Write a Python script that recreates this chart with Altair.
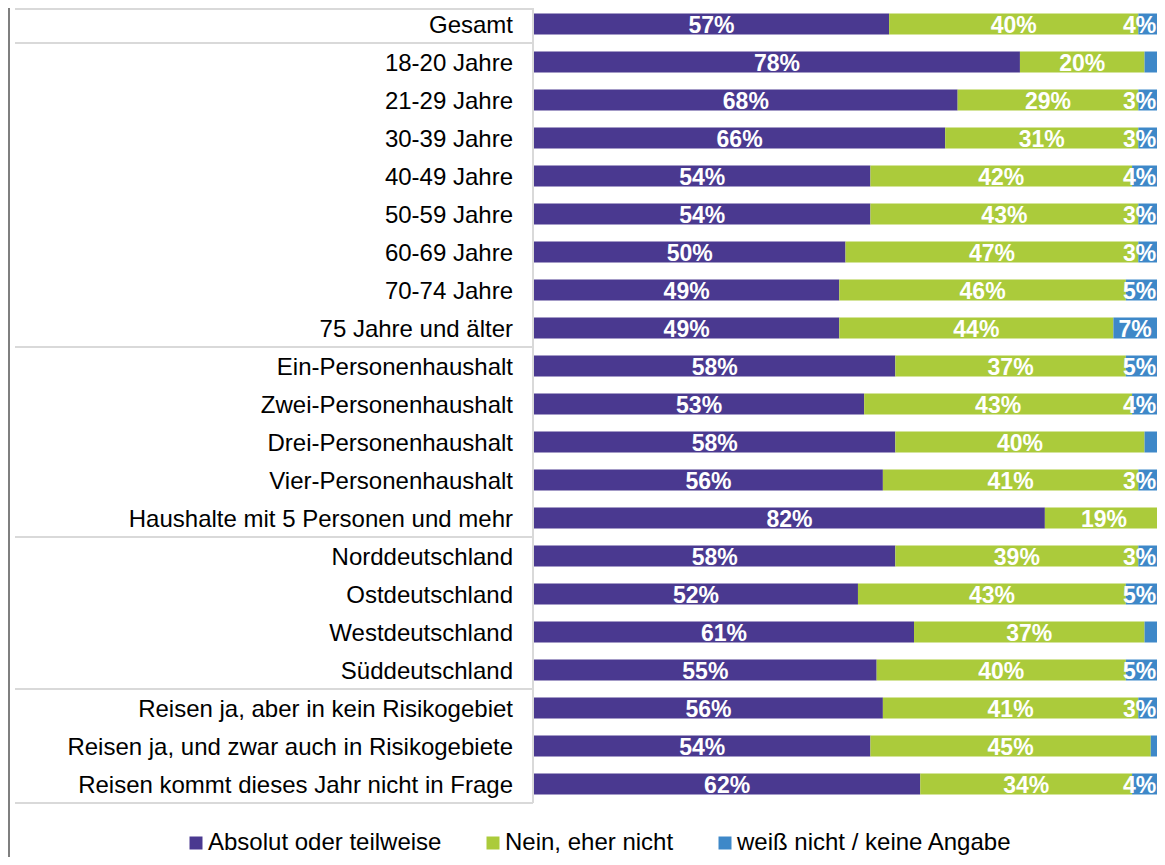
import altair as alt
import pandas as pd

categories = [
    "Gesamt",
    "18-20 Jahre", "21-29 Jahre", "30-39 Jahre", "40-49 Jahre", "50-59 Jahre",
    "60-69 Jahre", "70-74 Jahre", "75 Jahre und älter",
    "Ein-Personenhaushalt", "Zwei-Personenhaushalt", "Drei-Personenhaushalt",
    "Vier-Personenhaushalt", "Haushalte mit 5 Personen und mehr",
    "Norddeutschland", "Ostdeutschland", "Westdeutschland", "Süddeutschland",
    "Reisen ja, aber in kein Risikogebiet",
    "Reisen ja, und zwar auch in Risikogebiete",
    "Reisen kommt dieses Jahr nicht in Frage",
]
absolut = [57, 78, 68, 66, 54, 54, 50, 49, 49, 58, 53, 58, 56, 82, 58, 52, 61, 55, 56, 54, 62]
nein = [40, 20, 29, 31, 42, 43, 47, 46, 44, 37, 43, 40, 41, 19, 39, 43, 37, 40, 41, 45, 34]
weiss = [4, 2, 3, 3, 4, 3, 3, 5, 7, 5, 4, 2, 3, 0, 3, 5, 2, 5, 3, 1, 4]

answers = ["Absolut oder teilweise", "Nein, eher nicht", "weiß nicht / keine Angabe"]
colors = ["#4a3990", "#abcb3b", "#3e88c8"]

group_starts = ["Gesamt", "18-20 Jahre", "Ein-Personenhaushalt", "Norddeutschland",
                "Reisen ja, aber in kein Risikogebiet"]

FONT = "Liberation Sans"

rows = []
for i, c in enumerate(categories):
    for j, (a, v) in enumerate(zip(answers, [absolut[i], nein[i], weiss[i]])):
        rows.append({"cat": c, "answer": a, "value": v, "order": j})
bars_df = pd.DataFrame(rows)
cats_df = pd.DataFrame({"cat": categories})
sep_df = pd.DataFrame({"cat": group_starts})
last_df = pd.DataFrame({"cat": [categories[-1]]})

W, H = 1149, 849
ROW_RANGE = [-3, 795]

yband = alt.Scale(domain=categories, range=ROW_RANGE, paddingInner=0.447, paddingOuter=0.2235)
yrow = alt.Scale(domain=categories, range=ROW_RANGE, paddingInner=0, paddingOuter=0)
xscale = alt.Scale(domain=[0, 100], range=[526, 1149])

stacked = alt.Chart(bars_df).transform_stack(
    stack="value", groupby=["cat"], as_=["x0", "x1"], offset="zero",
    sort=[alt.SortField("order", order="ascending")]
).transform_calculate(
    mid="datum.order == 2 ? min((datum.x0 + datum.x1) / 2, 97.2) : (datum.x0 + datum.x1) / 2",
    label="datum.value >= 3 ? datum.value + '%' : ''"
)

bars = stacked.mark_bar(size=21).encode(
    y=alt.Y("cat:N", scale=yband, axis=None),
    x=alt.X("x0:Q", scale=xscale, axis=None),
    x2="x1:Q",
    color=alt.Color("answer:N", scale=alt.Scale(domain=answers, range=colors),
                    legend=alt.Legend(orient="none", legendX=176, legendY=823,
                                      direction="horizontal", title=None,
                                      symbolType="square", symbolSize=169,
                                      symbolStrokeWidth=0, labelFont=FONT,
                                      labelFontSize=24, labelColor="#000000",
                                      labelLimit=0, columnPadding=39, labelOffset=0,
                                      padding=0, symbolOpacity=1)),
)

bar_text = stacked.mark_text(font=FONT, fontSize=23, fontWeight="bold", dy=1.5,
                             color="white", align="center", baseline="middle").encode(
    y=alt.Y("cat:N", scale=yband, axis=None),
    x=alt.X("mid:Q", scale=xscale, axis=None),
    text="label:N",
)

cat_text = alt.Chart(cats_df).mark_text(font=FONT, fontSize=24, color="#000000", dy=2,
                                        align="right", baseline="middle").encode(
    y=alt.Y("cat:N", scale=yrow, axis=None),
    x=alt.value(505),
    text="cat:N",
)

sep_rules = alt.Chart(sep_df).mark_rule(color="#d9d9d9", strokeWidth=2).encode(
    y=alt.Y("cat:N", scale=yrow, axis=None, bandPosition=0),
    x=alt.value(7),
    x2=alt.value(525),
)
bottom_rule = alt.Chart(last_df).mark_rule(color="#d9d9d9", strokeWidth=2).encode(
    y=alt.Y("cat:N", scale=yrow, axis=None, bandPosition=1),
    x=alt.value(7),
    x2=alt.value(525),
)
top_rule = alt.Chart(cats_df).mark_rule(color="#d9d9d9", strokeWidth=2).encode(
    y=alt.value(1), x=alt.value(7), x2=alt.value(525),
)
vert_rule = alt.Chart(cats_df).mark_rule(color="#d9d9d9", strokeWidth=2).encode(
    x=alt.value(525), y=alt.value(-3), y2=alt.value(795),
)
left_rule = alt.Chart(cats_df).mark_rule(color="#7f7f7f", strokeWidth=2).encode(
    x=alt.value(1), y=alt.value(0), y2=alt.value(H),
)

chart = alt.layer(
    sep_rules, bottom_rule, top_rule, vert_rule, left_rule, cat_text, bars, bar_text
).resolve_scale(y="independent").properties(
    width=W, height=H, padding=0, autosize=alt.AutoSizeParams(type="none")
).configure_view(stroke=None)

chart.save("out.html", embed_options={"renderer": "svg", "actions": False})
